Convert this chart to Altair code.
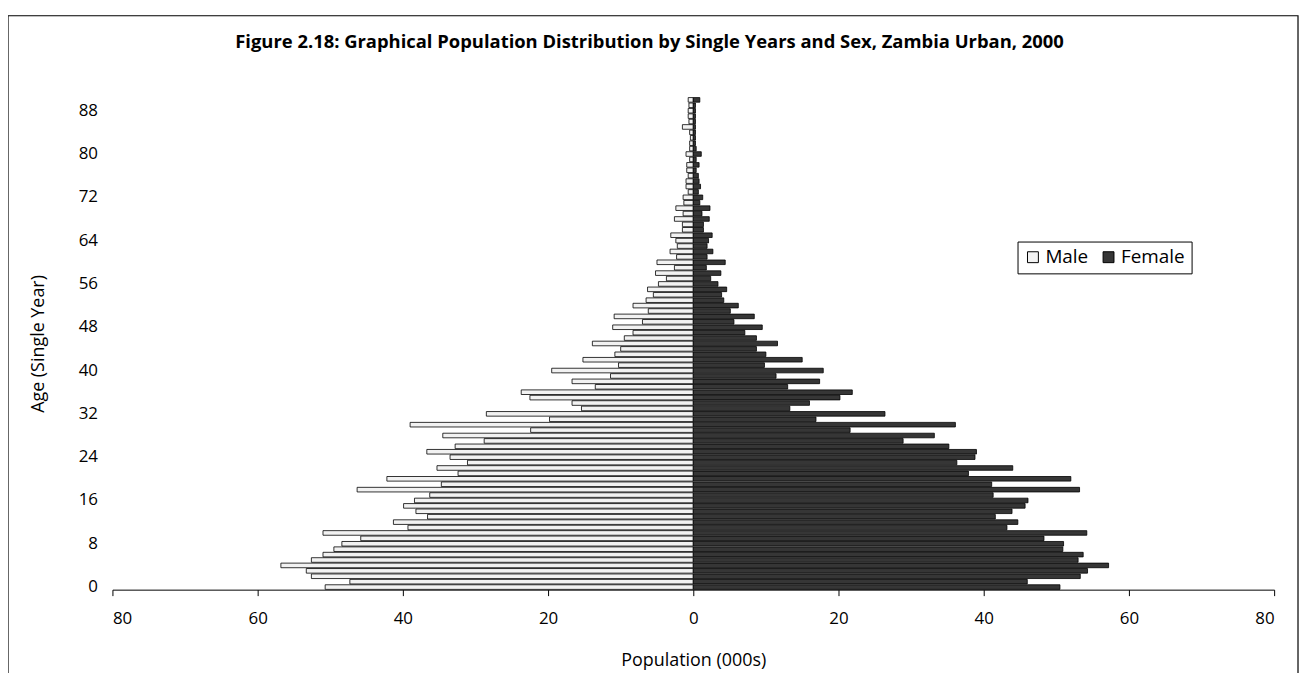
import altair as alt
import pandas as pd

ages = list(range(91))
male = [50.7, 47.3, 52.6, 53.3, 56.8, 52.6, 51.0, 49.5, 48.4, 45.8,
        51.0, 39.3, 41.3, 36.6, 38.2, 39.9, 38.4, 36.3, 46.3, 34.7,
        42.2, 32.4, 35.3, 31.1, 33.5, 36.7, 32.8, 28.8, 34.5, 22.4,
        39.0, 19.8, 28.5, 15.4, 16.7, 22.5, 23.7, 13.5, 16.7, 11.4,
        19.5, 10.3, 15.2, 10.8, 10.0, 13.9, 9.5, 8.3, 11.1, 7.0,
        10.9, 6.2, 8.3, 6.5, 5.5, 6.3, 4.8, 3.7, 5.2, 2.6,
        5.0, 2.3, 3.2, 2.2, 2.4, 3.1, 1.5, 1.5, 2.6, 1.4,
        2.4, 1.3, 1.4, 0.7, 1.0, 1.0, 0.7, 0.9, 0.9, 0.5,
        1.0, 0.5, 0.5, 0.4, 0.5, 1.5, 0.6, 0.7, 0.7, 0.6, 0.7]
female = [50.5, 46.0, 53.3, 54.3, 57.2, 53.0, 53.7, 50.9, 51.0, 48.3,
          54.2, 43.2, 44.7, 41.6, 43.9, 45.7, 46.1, 41.3, 53.2, 41.1,
          52.0, 37.9, 44.0, 36.3, 38.8, 39.0, 35.2, 28.9, 33.2, 21.6,
          36.1, 16.9, 26.4, 13.3, 16.0, 20.2, 21.9, 13.0, 17.4, 11.4,
          17.9, 9.8, 15.0, 10.0, 8.7, 11.6, 8.7, 7.1, 9.5, 5.6,
          8.4, 5.1, 6.2, 4.2, 3.9, 4.6, 3.4, 2.4, 3.8, 1.8,
          4.4, 1.9, 2.7, 1.9, 2.1, 2.6, 1.4, 1.4, 2.2, 1.2,
          2.3, 0.9, 1.3, 0.7, 1.0, 0.8, 0.7, 0.4, 0.8, 0.4,
          1.1, 0.4, 0.3, 0.3, 0.3, 0.3, 0.3, 0.3, 0.3, 0.3, 0.9]
sexes = ["Male", "Female"]
y_ticks = list(range(0, 89, 8))
x_ticks = [-80, -60, -40, -20, 0, 20, 40, 60, 80]
title_text = ["Figure 2.18: Graphical Population Distribution by Single Years and Sex, Zambia Urban, 2000"]

rows = []
for a, m, f in zip(ages, male, female):
    rows.append({"age": a, "sex": "Male", "pop": -m})
    rows.append({"age": a, "sex": "Female", "pop": f})
df = pd.DataFrame(rows)

FONT = "Open Sans"

bars = alt.Chart(df).mark_bar(stroke="black", strokeWidth=0.8).encode(
    x=alt.X("pop:Q", stack=None,
            scale=alt.Scale(domain=[-80, 80], nice=False),
            axis=alt.Axis(values=x_ticks, labelExpr="abs(datum.value)",
                          title="Population (000s)", grid=False, tickSize=6,
                          labelPadding=15, titlePadding=25, domainColor="black",
                          tickColor="black", labelFontSize=17, titleFontSize=18,
                          titleFontWeight="normal", labelColor="black",
                          titleColor="black", labelFont=FONT, titleFont=FONT)),
    y=alt.Y("age:O",
            scale=alt.Scale(domain=list(reversed(ages)), paddingInner=0.15,
                            paddingOuter=0.05),
            axis=alt.Axis(values=y_ticks, title="Age (Single Year)", domain=False,
                          ticks=False, labelPadding=15, labelAngle=0,
                          labelFontSize=17, titleFontSize=18,
                          titleFontWeight="normal", titlePadding=31,
                          labelColor="black", titleColor="black",
                          labelFont=FONT, titleFont=FONT)),
    color=alt.Color("sex:N",
                    scale=alt.Scale(domain=sexes, range=["#f2f2f2", "#363636"]),
                    legend=alt.Legend(title=None, orient="none", legendX=910,
                                      legendY=145, direction="horizontal",
                                      strokeColor="black", padding=6,
                                      symbolType="square", symbolSize=120,
                                      symbolStrokeColor="black",
                                      symbolStrokeWidth=1, labelFontSize=19,
                                      labelFont=FONT, labelColor="black",
                                      columnPadding=10, labelOffset=3)),
)

frame = alt.Chart(pd.DataFrame({"k": [0]})).mark_rect(
    fill="transparent", stroke="black", strokeWidth=1.2
).encode(
    x=alt.value(-105), x2=alt.value(1192),
    y=alt.value(-82), y2=alt.value(620),
)

title = alt.Chart(pd.DataFrame({"t": title_text})).mark_text(
    fontSize=18.5, fontWeight="bold", font=FONT, color="black",
    align="center", baseline="middle"
).encode(text="t:N", x=alt.value(540), y=alt.value(-56))

chart = alt.layer(frame, bars, title).properties(
    width=1168, height=495,
    autosize=alt.AutoSizeParams(type="none"),
    padding={"left": 105, "top": 88, "right": 25, "bottom": 82},
).configure_view(stroke=None)

chart.save("out.html", embed_options={"renderer": "svg", "actions": False})
